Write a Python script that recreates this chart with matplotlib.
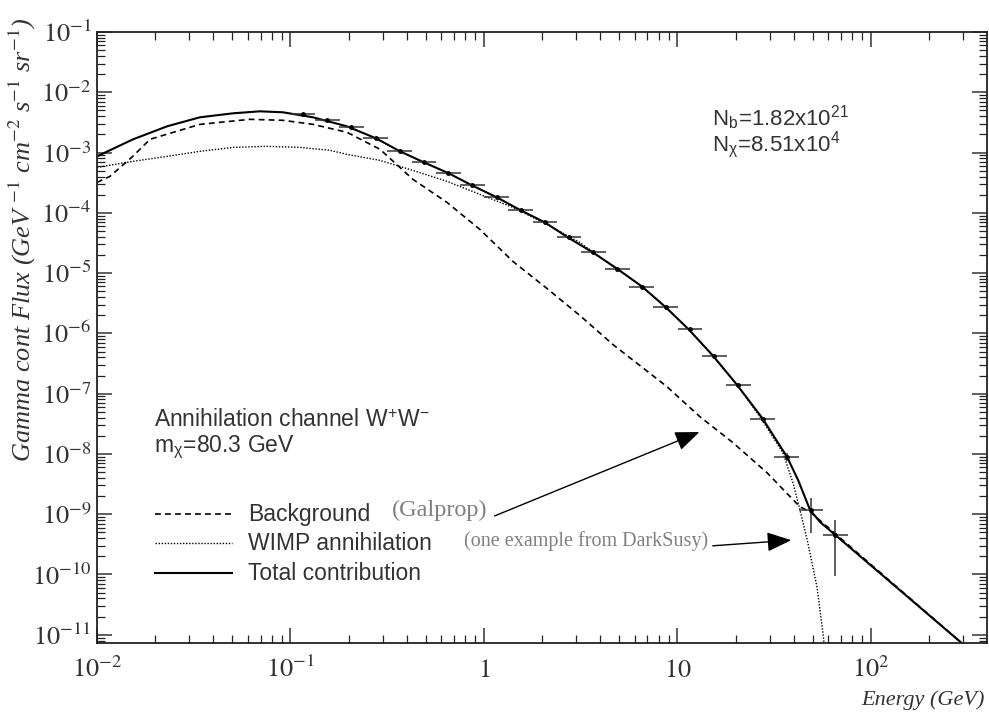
import numpy as np
import matplotlib
matplotlib.use("Agg")
import matplotlib.pyplot as plt
from matplotlib.ticker import FixedLocator, FixedFormatter, LogLocator, NullFormatter

plt.rcParams['mathtext.fontset'] = 'stix'

# ---- data ----
# Background (Galprop): log10(E/GeV), log10(flux)
bg_log_e = [-2.0, -1.933, -1.814, -1.726, -1.468, -1.209, -1.039, -0.884, -0.708, -0.537,
            -0.367, -0.191, -0.021, 0.150, 0.326, 0.496, 0.667, 0.946, 1.116, 1.287,
            1.463, 1.633, 1.685, 2.47]
bg_log_f = [-3.495, -3.395, -3.06, -2.78, -2.532, -2.449, -2.465, -2.532, -2.664, -2.947,
            -3.445, -3.827, -4.276, -4.807, -5.256, -5.704, -6.186, -6.884, -7.382, -7.814,
            -8.312, -8.877, -8.96, -11.14]

# WIMP annihilation (DarkSusy)
wimp_log_e = [-2.0, -1.814, -1.638, -1.468, -1.297, -1.121, -0.951, -0.796, -0.708, -0.537,
              -0.367, -0.191, -0.021, 0.150, 0.326, 0.496, 0.667, 0.817, 0.941, 1.059,
              1.183, 1.307, 1.426, 1.545, 1.597, 1.633, 1.674, 1.721, 1.752, 1.767]
wimp_log_f = [-3.246, -3.146, -3.063, -2.980, -2.914, -2.897, -2.914, -2.963, -3.030, -3.130,
              -3.296, -3.478, -3.694, -3.910, -4.193, -4.492, -4.890, -5.223, -5.571, -5.937,
              -6.369, -6.850, -7.382, -7.980, -8.478, -8.927, -9.475, -10.206, -10.970, -11.42]

# Total contribution
tot_log_e = [-2.0, -1.814, -1.638, -1.468, -1.297, -1.158, -1.039, -0.884, -0.708, -0.558,
             -0.434, -0.310, -0.181, -0.062, 0.067, 0.191, 0.315, 0.434, 0.563, 0.687,
             0.817, 0.941, 1.059, 1.183, 1.307, 1.437, 1.566, 1.623, 1.685, 1.736, 2.47]
tot_log_f = [-3.063, -2.781, -2.565, -2.415, -2.349, -2.316, -2.332, -2.415, -2.565, -2.764,
             -2.980, -3.163, -3.346, -3.545, -3.744, -3.960, -4.159, -4.409, -4.658, -4.924,
             -5.223, -5.571, -5.937, -6.369, -6.850, -7.399, -8.047, -8.429, -8.927, -9.126, -11.14]

# Simulated data points
pts_energy = [0.1161, 0.1549, 0.2065, 0.2754, 0.3673, 0.4898, 0.6531, 0.8710, 1.161, 1.549,
              2.065, 2.754, 3.673, 4.898, 6.531, 8.710, 11.61, 15.49, 20.65, 27.54,
              36.73, 48.98, 65.31]
pts_flux = [4.30e-3, 3.43e-3, 2.62e-3, 1.72e-3, 1.05e-3, 6.87e-4, 4.51e-4, 2.85e-4, 1.80e-4, 1.10e-4,
            6.93e-5, 3.90e-5, 2.20e-5, 1.15e-5, 5.98e-6, 2.69e-6, 1.16e-6, 4.28e-7, 1.41e-7, 3.85e-8,
            8.97e-9, 1.18e-9, 4.55e-10]
pts_rel_err = [0.01, 0.01, 0.01, 0.01, 0.01, 0.01, 0.01, 0.01, 0.01, 0.01,
               0.01, 0.01, 0.01, 0.02, 0.02, 0.02, 0.03, 0.04, 0.05, 0.07,
               0.15, 0.58, 0.79]
bin_half_dex = 0.064

x_ticks = [1e-2, 1e-1, 1, 10, 1e2]
x_labels = [r'$\mathit{10^{-2}}$', r'$\mathit{10^{-1}}$', r'$\mathit{1}$', r'$\mathit{10}$', r'$\mathit{10^{2}}$']
y_exps = list(range(-11, 0))
y_labels = [r'$\mathit{10^{%d}}$' % e for e in y_exps]

# ---- figure ----
W, H = 989, 713
fig = plt.figure(figsize=(W / 100, H / 100), dpi=100)
ax = fig.add_axes([97 / W, 1 - 643 / H, (987 - 97) / W, (643 - 32) / H])

ax.set_xscale('log')
ax.set_yscale('log')

ax.plot(10 ** np.array(bg_log_e), 10 ** np.array(bg_log_f), color='black', lw=1.2,
        linestyle=(0, (3.5, 2.5)), label='Background')
ax.plot(10 ** np.array(wimp_log_e), 10 ** np.array(wimp_log_f), color='black', lw=1.0,
        linestyle=(0, (1, 1.2)), label='WIMP annihilation')
ax.plot(10 ** np.array(tot_log_e), 10 ** np.array(tot_log_f), color='black', lw=1.5,
        linestyle='-', label='Total contribution')

pe = np.array(pts_energy)
pf = np.array(pts_flux)
xerr = [pe - pe * 10 ** (-bin_half_dex), pe * 10 ** bin_half_dex - pe]
yerr = np.array(pts_rel_err) * pf
ax.errorbar(pe, pf, xerr=xerr, yerr=yerr, fmt='o', ms=2.5, color='black',
            ecolor='#333333', elinewidth=1.1, capsize=0)

ax.set_xlim(1e-2, 398)
ax.set_ylim(7.3e-12, 1e-1)

ax.xaxis.set_major_locator(FixedLocator(x_ticks))
ax.xaxis.set_major_formatter(FixedFormatter(x_labels))
ax.xaxis.set_minor_locator(LogLocator(base=10, subs=np.arange(2, 10)))
ax.xaxis.set_minor_formatter(NullFormatter())
ax.yaxis.set_major_locator(FixedLocator([10.0 ** e for e in y_exps]))
ax.yaxis.set_major_formatter(FixedFormatter(y_labels))
ax.yaxis.set_minor_locator(LogLocator(base=10, subs=np.arange(2, 10), numticks=30))
ax.yaxis.set_minor_formatter(NullFormatter())

ax.tick_params(which='both', direction='in', top=True, right=True, color='#222222')
ax.tick_params(which='major', length=11, width=1.1, labelsize=19, colors='#333333')
ax.tick_params(which='minor', length=6, width=0.9)
ax.tick_params(axis='x', which='major', pad=10)
ax.tick_params(axis='y', which='major', pad=4)
for s in ax.spines.values():
    s.set_linewidth(1.3)
    s.set_color('#222222')

# axis labels
fig.text(22 / W, 1 - 240 / H,
         r'Gamma cont Flux (GeV $^{\mathit{-1}}$ cm$^{\mathit{-2}}$ s$^{\mathit{-1}}$ sr$^{\mathit{-1}}$)',
         rotation=90, ha='center', va='center', family='Liberation Serif', style='italic',
         fontsize=19, color='#333333')
fig.text(985 / W, 1 - 700 / H, 'Energy (GeV)', ha='right', va='center',
         family='Liberation Serif', style='italic', fontsize=16, color='#333333')

sans = 'Liberation Sans'
tcol = '#333333'
fig.text(712 / W, 1 - 118 / H, r'N$_\mathregular{b}$=1.82x10$^\mathregular{21}$',
         ha='left', va='center', family=sans, fontsize=16, color=tcol)
fig.text(712 / W, 1 - 145 / H, r'N$_\mathregular{\chi}$=8.51x10$^\mathregular{4}$',
         ha='left', va='center', family=sans, fontsize=16, color=tcol)

fig.text(154 / W, 1 - 420 / H, r'Annihilation channel W$^\mathregular{+}$W$^\mathregular{-}$',
         ha='left', va='center', family=sans, fontsize=16.5, color=tcol)
fig.text(154 / W, 1 - 447 / H, r'm$_\mathregular{\chi}$=80.3 GeV',
         ha='left', va='center', family=sans, fontsize=16.5, color=tcol)

# legend (drawn manually in figure pixels)
leg_rows = [('Background', (0, (3.5, 2.5)), 1.2, 514),
            ('WIMP annihilation', (0, (1, 1.2)), 1.0, 543),
            ('Total contribution', '-', 1.5, 573)]
for lab, ls, lw, yy in leg_rows:
    fig.add_artist(plt.Line2D([155 / W, 232 / W], [1 - yy / H, 1 - yy / H],
                              color='black', lw=lw, linestyle=ls))
    fig.text(248 / W, 1 - yy / H, lab, ha='left', va='center', family=sans,
             fontsize=16.5, color=tcol)

fig.text(392 / W, 1 - 510 / H, '(Galprop)', ha='left', va='center',
         family='Liberation Serif', fontsize=17.5, color='#808080')
fig.text(464 / W, 1 - 541 / H, '(one example from DarkSusy)', ha='left', va='center',
         family='Liberation Serif', fontsize=14.5, color='#808080')

# arrows
for (x0, y0, x1, y1) in [(492, 517, 702, 431), (710, 546, 794, 540)]:
    fig.add_artist(matplotlib.patches.FancyArrowPatch(
        (x0 / W, 1 - y0 / H), (x1 / W, 1 - y1 / H), transform=fig.transFigure,
        arrowstyle='-|>,head_length=10,head_width=4', mutation_scale=1.5,
        color='black', lw=1.0))

fig.savefig('out.png', dpi=100)
